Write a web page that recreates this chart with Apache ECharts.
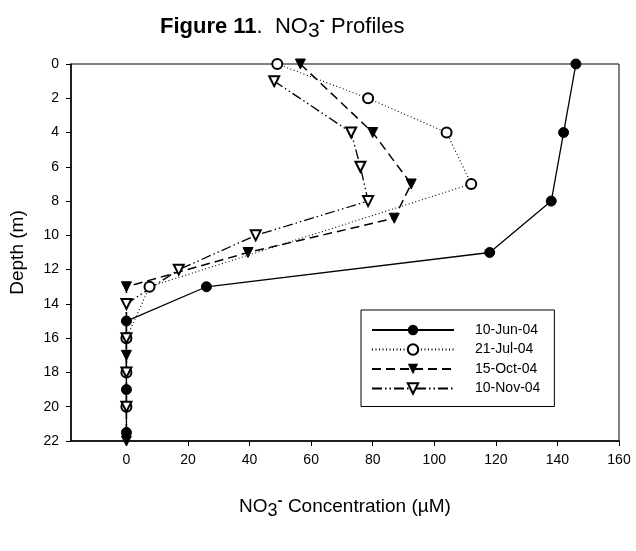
<!DOCTYPE html>
<html><head><meta charset="utf-8">
<script src="https://cdn.jsdelivr.net/npm/echarts@6/dist/echarts.min.js"></script>
<style>html,body{margin:0;padding:0;background:#fff}#c{width:636px;height:551px}</style>
</head><body><div id="c"></div>
<script>
const seriesNames = ['10-Jun-04', '21-Jul-04', '15-Oct-04', '10-Nov-04'];
const junConc = [146, 142, 138, 118, 26, 0, 0, 0];
const junDepth = [0, 4, 8, 11, 13, 15, 19, 21.5];
const julConc = [49, 78.5, 104, 112, 7.5, 0, 0, 0];
const julDepth = [0, 2, 4, 7, 13, 16, 18, 20];
const octConc = [56.5, 80, 92.5, 87, 39.5, 0, 0, 0];
const octDepth = [0, 4, 7, 9, 11, 13, 17, 22];
const novConc = [48, 73, 76, 78.5, 42, 17, 0, 0, 0, 0];
const novDepth = [1, 4, 6, 8, 10, 12, 14, 16, 18, 20];
const xTicks = [0, 20, 40, 60, 80, 100, 120, 140, 160];

const FONT = '"Liberation Sans", Arial, sans-serif';
const pairs = (xs, ys) => xs.map((v, i) => [v, ys[i]]);

const chart = echarts.init(document.getElementById('c'), null, {renderer: 'canvas'});

const baseSeries = (name, data, symbol, rotate, lineType, width, extraItem) => ({
  name: name, type: 'line', data: data, symbol: symbol, symbolSize: 10,
  symbolRotate: rotate, clip: false, showAllSymbol: true,
  itemStyle: Object.assign({color: '#000', borderColor: '#000'}, extraItem || {}),
  lineStyle: {color: '#000', width: width, type: lineType},
  emphasis: {disabled: true}
});

chart.setOption({
  animation: false,
  backgroundColor: '#fff',
  title: {
    text: '{b|Figure 11}{n|.  NO}{sub|3}{sup|-}{n| Profiles}',
    left: 155, top: 6,
    textStyle: {
      fontWeight: 'normal',
      rich: {
        b: {fontFamily: FONT, fontSize: 22, fontWeight: 'bold', color: '#000'},
        n: {fontFamily: FONT, fontSize: 22, fontWeight: 'normal', color: '#000'},
        sub: {fontFamily: FONT, fontSize: 21, fontWeight: 'normal', color: '#000', padding: [10, 0, 0, 0]},
        sup: {fontFamily: FONT, fontSize: 16, fontWeight: 'bold', color: '#000', padding: [0, 0, 12, 0]}
      }
    }
  },
  grid: {left: 70, right: 17, top: 64, bottom: 110, show: true, borderColor: '#000', borderWidth: 1, backgroundColor: 'transparent'},
  legend: {
    orient: 'vertical', left: 361, top: 310,
    data: seriesNames,
    itemWidth: 82, itemHeight: 13, itemGap: 5.5,
    borderColor: '#000', borderWidth: 1,
    padding: [13, 14, 11, 10],
    textStyle: {fontFamily: FONT, fontSize: 14, color: '#000', padding: [0, 0, 0, 16]}
  },
  xAxis: {
    type: 'value', min: -18, max: 160,
    name: '{n|NO}{sub|3}{sup|-}{n| Concentration (µM)}',
    nameLocation: 'middle', nameGap: 52,
    nameTextStyle: {
      rich: {
        n: {fontFamily: FONT, fontSize: 19, color: '#000'},
        sub: {fontFamily: FONT, fontSize: 18, color: '#000', padding: [9, 0, 0, 0]},
        sup: {fontFamily: FONT, fontSize: 15, fontWeight: 'bold', color: '#000', padding: [0, 0, 11, 0]}
      }
    },
    axisLine: {onZero: false, lineStyle: {color: '#000', width: 1.5}},
    axisTick: {customValues: xTicks, length: 5, lineStyle: {color: '#000', width: 1}},
    axisLabel: {customValues: xTicks, fontFamily: FONT, fontSize: 14, color: '#000', margin: 12},
    splitLine: {show: false}
  },
  yAxis: {
    type: 'value', inverse: true, min: 0, max: 22, interval: 2,
    name: 'Depth (m)', nameLocation: 'middle', nameGap: 44,
    nameTextStyle: {fontFamily: FONT, fontSize: 19, color: '#000'},
    axisLine: {onZero: false, lineStyle: {color: '#000', width: 1.5}},
    axisTick: {length: 5, lineStyle: {color: '#000', width: 1}},
    axisLabel: {fontFamily: FONT, fontSize: 14, color: '#000', margin: 12},
    splitLine: {show: false}
  },
  series: [
    baseSeries(seriesNames[0], pairs(junConc, junDepth), 'circle', 0, 'solid', 1.3),
    baseSeries(seriesNames[1], pairs(julConc, julDepth), 'emptyCircle', 0, [1, 2.5], 1.1, {borderWidth: 1.2}),
    baseSeries(seriesNames[2], pairs(octConc, octDepth), 'triangle', 180, [9, 5], 1.5),
    baseSeries(seriesNames[3], pairs(novConc, novDepth), 'emptyTriangle', 180, [10, 3, 1.5, 3, 1.5, 3], 1.3, {borderWidth: 1.2})
  ]
});
</script></body></html>
